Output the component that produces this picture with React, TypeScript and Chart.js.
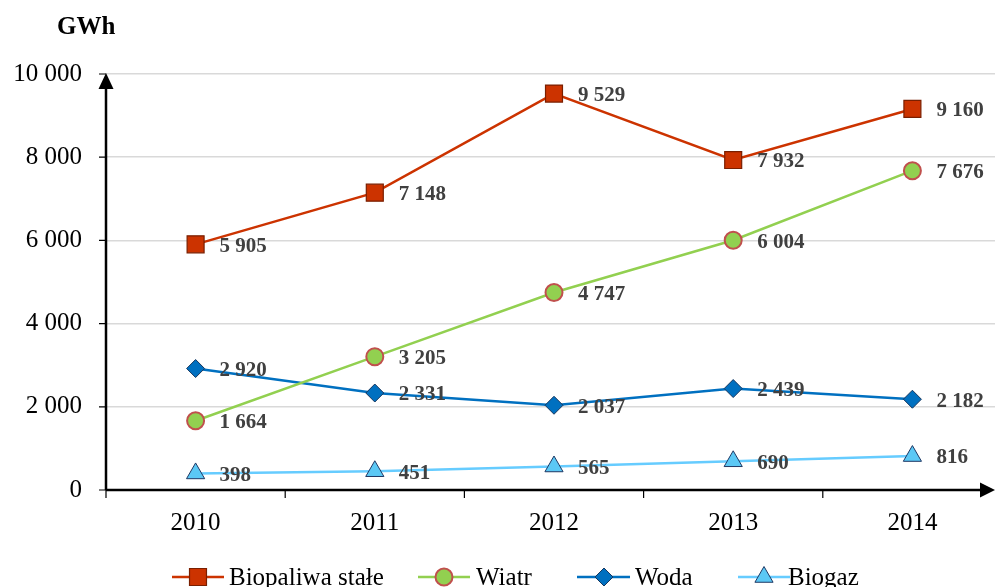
import React, { useEffect, useRef } from "react";
import { Chart, registerables } from "chart.js";

Chart.register(...registerables);

// Production of electricity from renewable sources, GWh
const years = ["2010", "2011", "2012", "2013", "2014"];
const biopaliwa = [5905, 7148, 9529, 7932, 9160];
const wiatr = [1664, 3205, 4747, 6004, 7676];
const woda = [2920, 2331, 2037, 2439, 2182];
const biogaz = [398, 451, 565, 690, 816];
const seriesNames = ["Biopaliwa stałe", "Wiatr", "Woda", "Biogaz"];
const yTicks = [0, 2000, 4000, 6000, 8000, 10000];

const SERIF = '"Liberation Serif", "Times New Roman", serif';

const fmt = (v: number) => String(v).replace(/\B(?=(\d{3})+(?!\d))/g, " ");

const styles = [
  { line: "#CC3300", fill: "#CC3300", border: "#7A1F00", borderW: 1.2, shape: "rect", r: 12 },
  { line: "#92D050", fill: "#92D050", border: "#C0504D", borderW: 2, shape: "circle", r: 8.5 },
  { line: "#0070C0", fill: "#0070C0", border: "#17375E", borderW: 1, shape: "rectRot", r: 9 },
  { line: "#66CCFF", fill: "#5BC8F5", border: "#1F3864", borderW: 1, shape: "triangle", r: 10.5 },
];

function arrow(ctx: CanvasRenderingContext2D, pts: number[][]) {
  ctx.beginPath();
  ctx.moveTo(pts[0][0], pts[0][1]);
  for (let i = 1; i < pts.length; i++) ctx.lineTo(pts[i][0], pts[i][1]);
  ctx.closePath();
  ctx.fill();
}

function drawMarker(ctx: CanvasRenderingContext2D, shape: string, r: number, x: number, y: number) {
  ctx.beginPath();
  if (shape === "rect") {
    const h = r * Math.SQRT1_2;
    ctx.rect(x - h, y - h, 2 * h, 2 * h);
  } else if (shape === "circle") {
    ctx.arc(x, y, r, 0, Math.PI * 2);
  } else if (shape === "rectRot") {
    ctx.moveTo(x, y - r);
    ctx.lineTo(x + r, y);
    ctx.lineTo(x, y + r);
    ctx.lineTo(x - r, y);
    ctx.closePath();
  } else {
    const w = r * Math.sin(Math.PI / 3);
    ctx.moveTo(x, y - r);
    ctx.lineTo(x + w, y + r / 2);
    ctx.lineTo(x - w, y + r / 2);
    ctx.closePath();
  }
  ctx.fill();
  ctx.stroke();
}

const decorPlugin = {
  id: "decor",
  afterDatasetsDraw(chart: any) {
    const ctx: CanvasRenderingContext2D = chart.ctx;
    const { left, bottom, top } = chart.chartArea;
    const xs = chart.scales.x;
    const ys = chart.scales.y;
    ctx.save();
    // axes with arrowheads
    ctx.strokeStyle = "#000";
    ctx.fillStyle = "#000";
    ctx.lineWidth = 2.5;
    ctx.beginPath();
    ctx.moveTo(left, bottom);
    ctx.lineTo(left, top + 14);
    ctx.moveTo(left, bottom);
    ctx.lineTo(983, bottom);
    ctx.stroke();
    arrow(ctx, [[left, top - 1], [left - 7.5, top + 15], [left + 7.5, top + 15]]);
    arrow(ctx, [[995, bottom], [980, bottom - 7.5], [980, bottom + 7.5]]);
    // y tick marks
    ctx.lineWidth = 1.2;
    ctx.beginPath();
    yTicks.forEach((t) => {
      const y = ys.getPixelForValue(t);
      ctx.moveTo(left - 7, y);
      ctx.lineTo(left, y);
    });
    // x tick marks on category boundaries
    const band = xs.getPixelForValue(1) - xs.getPixelForValue(0);
    for (let i = 0; i < years.length; i++) {
      const x = xs.getPixelForValue(i) - band / 2;
      ctx.moveTo(x, bottom);
      ctx.lineTo(x, bottom + 8);
    }
    ctx.stroke();

    // value labels
    ctx.font = `bold 21px ${SERIF}`;
    ctx.fillStyle = "#404040";
    ctx.textAlign = "left";
    ctx.textBaseline = "middle";
    chart.data.datasets.forEach((ds: any, di: number) => {
      const meta = chart.getDatasetMeta(di);
      meta.data.forEach((pt: any, i: number) => {
        ctx.fillText(fmt(ds.data[i]), pt.x + 24, pt.y + 2);
      });
    });

    // unit
    ctx.font = `bold 25px ${SERIF}`;
    ctx.fillStyle = "#000";
    ctx.fillText("GWh", 57, 28);

    // legend
    const legendY = 577;
    const entries = [
      { x0: 172, x1: 224, mx: 198, tx: 229 },
      { x0: 418, x1: 470, mx: 444, tx: 476 },
      { x0: 577, x1: 630, mx: 604, tx: 635 },
      { x0: 738, x1: 790, mx: 764, tx: 788 },
    ];
    ctx.font = `25px ${SERIF}`;
    entries.forEach((e, i) => {
      const s = styles[i];
      ctx.strokeStyle = s.line;
      ctx.lineWidth = 2.5;
      ctx.beginPath();
      ctx.moveTo(e.x0, legendY);
      ctx.lineTo(e.x1, legendY);
      ctx.stroke();
      ctx.fillStyle = s.fill;
      ctx.strokeStyle = s.border;
      ctx.lineWidth = s.borderW;
      drawMarker(ctx, s.shape, s.r, e.mx, legendY);
      ctx.fillStyle = "#000";
      ctx.fillText(seriesNames[i], e.tx, legendY + 1);
    });
    ctx.restore();
  },
};

export default function App() {
  const ref = useRef<HTMLCanvasElement>(null);

  useEffect(() => {
    if (!ref.current) return;
    const series = [biopaliwa, wiatr, woda, biogaz];
    const chart = new Chart(ref.current, {
      type: "line",
      data: {
        labels: years,
        datasets: series.map((d, i) => ({
          label: seriesNames[i],
          data: d,
          borderColor: styles[i].line,
          borderWidth: 2.5,
          backgroundColor: styles[i].fill,
          pointBackgroundColor: styles[i].fill,
          pointBorderColor: styles[i].border,
          pointBorderWidth: styles[i].borderW,
          pointStyle: styles[i].shape as any,
          pointRadius: styles[i].r,
          tension: 0,
          fill: false,
        })),
      },
      options: {
        responsive: false,
        animation: false,
        layout: { padding: { top: 74, left: 0, right: 18, bottom: 0 } },
        plugins: {
          legend: { display: false },
          tooltip: { enabled: false },
        },
        scales: {
          x: {
            type: "category",
            offset: true,
            grid: { display: false, drawTicks: false },
            border: { display: false },
            ticks: {
              color: "#000",
              font: { family: SERIF, size: 25 },
              padding: 18,
              maxRotation: 0,
            },
            afterFit: (s: any) => {
              s.height = 97;
            },
          },
          y: {
            min: 0,
            max: 10000,
            afterBuildTicks: (s: any) => {
              s.ticks = yTicks.map((v) => ({ value: v }));
            },
            grid: {
              drawTicks: false,
              color: (c: any) => (c.tick && c.tick.value === 0 ? "rgba(0,0,0,0)" : "#D9D9D9"),
              lineWidth: 1.5,
            },
            border: { display: false },
            ticks: {
              color: "#000",
              font: { family: SERIF, size: 25 },
              padding: 24,
              callback: (v: any) => fmt(Number(v)),
            },
            afterFit: (s: any) => {
              s.width = 106;
            },
          },
        },
      },
      plugins: [decorPlugin],
    });
    return () => chart.destroy();
  }, []);

  return (
    <div
      style={{
        position: "fixed",
        left: 0,
        top: 0,
        width: 995,
        height: 587,
        overflow: "hidden",
        background: "#fff",
      }}
    >
      <canvas ref={ref} width={1020} height={587} style={{ display: "block", width: 1020, height: 587 }} />
    </div>
  );
}
